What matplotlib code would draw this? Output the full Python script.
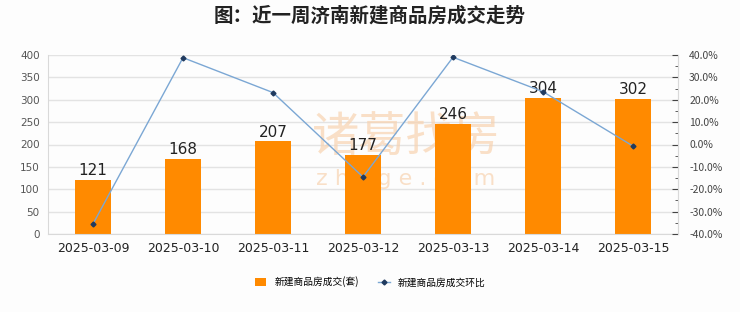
import matplotlib
matplotlib.use("Agg")
import matplotlib.pyplot as plt
from matplotlib.ticker import MultipleLocator, FuncFormatter
from matplotlib.lines import Line2D
from matplotlib.patches import Patch

plt.rcParams['font.family'] = ['Noto Sans CJK SC', 'DejaVu Sans']

dates = ["2025-03-09", "2025-03-10", "2025-03-11", "2025-03-12",
         "2025-03-13", "2025-03-14", "2025-03-15"]
volume = [121, 168, 207, 177, 246, 304, 302]
mom_pct = [-35.5, 38.8, 23.2, -14.5, 39.0, 23.6, -0.7]

title = "图：近一周济南新建商品房成交走势"
bar_label = "新建商品房成交(套)"
line_label = "新建商品房成交环比"

fig = plt.figure(figsize=(7.4, 3.12), dpi=100)
fig.patch.set_facecolor('#fdfdfd')
ax = fig.add_axes([48/740, 1-234/312, 630/740, 179/312])
ax.set_facecolor('#fdfdfd')

x = list(range(len(dates)))
bars = ax.bar(x, volume, width=0.4, color='#FF8A00', zorder=2)
ax.set_ylim(0, 400)
ax.set_xlim(-0.5, len(dates)-0.5)
ax.yaxis.set_major_locator(MultipleLocator(50))
ax.grid(axis='y', color='#e3e3e3', linewidth=1, zorder=0)
ax.set_axisbelow(True)
ax.spines['top'].set_visible(False)
for s in ['left', 'bottom', 'right']:
    ax.spines[s].set_color('#d9d9d9')
ax.set_xticks(x)
ax.set_xticklabels(dates, fontsize=9, color='#222222', family=['DejaVu Sans'])
ax.tick_params(axis='x', length=0, pad=6)
ax.tick_params(axis='y', length=0, labelsize=7.5, labelcolor='#555555', pad=6)
for lab in ax.get_yticklabels():
    lab.set_family(['DejaVu Sans'])

for xi, v in zip(x, volume):
    ax.text(xi, v + 4, str(v), ha='center', va='bottom', fontsize=11,
            color='#222222', family=['DejaVu Sans'], zorder=5)

# watermark (behind the bars)
ax.text(406/740, 1-138/312, "诸葛找房", fontsize=34, color='#F8D3B0', alpha=0.7,
        ha='center', va='center', zorder=1, transform=fig.transFigure, clip_on=False)
ax.text(406/740, 1-179/312, "z h u g e . c o m", fontsize=16, color='#F8D3B0', alpha=0.7,
        ha='center', va='center', family=['DejaVu Sans'], zorder=1,
        transform=fig.transFigure, clip_on=False)

ax2 = ax.twinx()
ax2.plot(x, mom_pct, color='#7BA7D4', linewidth=1, marker='D', markersize=2.5,
         markerfacecolor='#1F3A5F', markeredgecolor='#1F3A5F', zorder=4)
ax2.set_ylim(-40, 40)
ax2.yaxis.set_major_locator(MultipleLocator(10))
ax2.yaxis.set_minor_locator(MultipleLocator(5))
ax2.yaxis.set_major_formatter(FuncFormatter(lambda v, p: f"{v:.1f}%"))
ax2.tick_params(axis='y', which='major', direction='in', length=4, color='#444444',
                labelsize=7.5, labelcolor='#444444', pad=8)
ax2.tick_params(axis='y', which='minor', direction='in', length=2, color='#444444')
for s in ['top', 'left', 'bottom']:
    ax2.spines[s].set_visible(False)
ax2.spines['right'].set_color('#d9d9d9')

fig.text(0.5, 1-16/312, title, fontsize=14, fontweight='bold', color='#222222',
         ha='center', va='center')

handles = [Patch(facecolor='#FF8A00', edgecolor='none'),
           Line2D([0], [0], color='#7BA7D4', linewidth=1, marker='D', markersize=2.5,
                  markerfacecolor='#1F3A5F', markeredgecolor='#1F3A5F')]
fig.legend(handles, [bar_label, line_label], loc='center', bbox_to_anchor=(0.5, 1-282/312),
           ncol=2, frameon=False, fontsize=7, handlelength=1.2, handleheight=0.8,
           columnspacing=2.0, handletextpad=0.8)

fig.savefig("out.png", dpi=100, facecolor=fig.get_facecolor())
